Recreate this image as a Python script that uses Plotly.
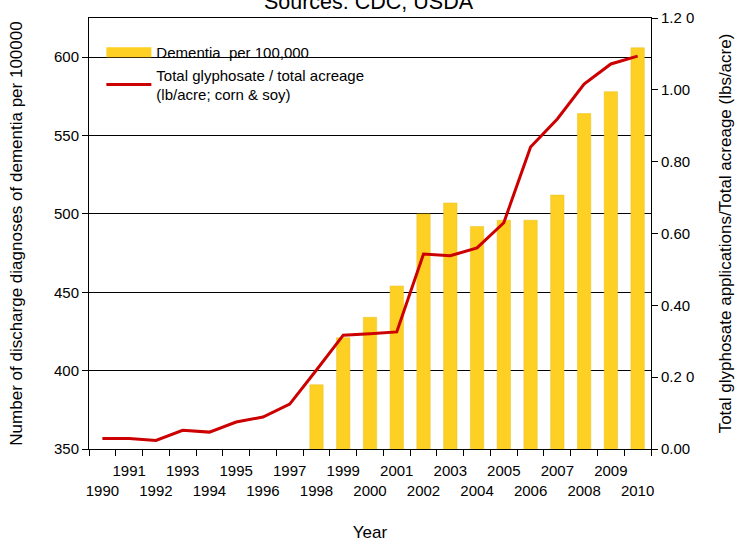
import plotly.graph_objects as go

years = [str(y) for y in range(1990, 2011)]
dementia = [None] * 8 + [391, 421, 434, 454, 500, 507, 492, 496, 496, 512, 564, 578, 606]
glyphosate = [0.029, 0.029, 0.024, 0.052, 0.047, 0.075, 0.089, 0.125, 0.22, 0.317,
              0.321, 0.326, 0.543, 0.538, 0.560, 0.630, 0.841, 0.919, 1.016, 1.072, 1.094]
x_ticktext = [y if int(y) % 2 == 1 else "<br>" + y for y in years]
right_tickvals = [0, 0.2, 0.4, 0.6, 0.8, 1.0, 1.2]
right_ticktext = ["0.00", "0.2 0", "0.40", "0.60", "0.80", "1.00", "1.2 0"]

FONT = "Liberation Sans, Arial, sans-serif"
BAR_COLOR = "#FDD023"

fig = go.Figure()
fig.add_trace(go.Bar(
    x=years, y=dementia, name="Dementia  per 100,000",
    marker=dict(color=BAR_COLOR, line=dict(color="#E8C020", width=0.5)),
    yaxis="y", showlegend=False,
))
# legend-only entry with a wide swatch like the original legend
fig.add_trace(go.Scatter(
    x=[None], y=[None], name="Dementia  per 100,000", mode="lines",
    line=dict(color=BAR_COLOR, width=10), yaxis="y", hoverinfo="skip",
))
fig.add_trace(go.Scatter(
    x=years, y=glyphosate, name="Total glyphosate / total acreage<br>(lb/acre; corn & soy)",
    mode="lines", line=dict(color="#CC0000", width=3), yaxis="y2",
))

fig.update_layout(
    width=737, height=542,
    margin=dict(l=89, r=86, t=18, b=93),
    paper_bgcolor="white", plot_bgcolor="white",
    font=dict(family=FONT, size=15, color="black"),
    title=dict(text="Sources: CDC; USDA", x=0.5, xanchor="center", y=0.998, yanchor="middle",
               font=dict(size=21.5)),
    bargap=0.5,
    showlegend=True,
    legend=dict(x=0.022, y=0.958, xanchor="left", yanchor="top", bgcolor="rgba(0,0,0,0)",
                font=dict(size=15), itemwidth=45, tracegroupgap=0),
    xaxis=dict(
        type="category", tickmode="array", tickvals=years, ticktext=x_ticktext,
        tickson="boundaries", ticks="outside", ticklen=6, tickcolor="black",
        showline=True, linecolor="black", linewidth=1, mirror=True,
        showgrid=False, tickangle=0, automargin=False, ticklabelstandoff=8,
        title=dict(text="Year", standoff=44, font=dict(size=17)),
        range=[-0.5, 20.5],
    ),
    yaxis=dict(
        range=[350, 625], tickvals=[350, 400, 450, 500, 550, 600],
        ticks="outside", ticklen=6, tickcolor="black",
        showline=True, linecolor="black", linewidth=1,
        showgrid=True, gridcolor="black", gridwidth=1, zeroline=False, automargin=False,
        title=dict(text="Number of discharge diagnoses of dementia per 100000", font=dict(size=17), standoff=27),
    ),
    yaxis2=dict(
        range=[0, 1.2], overlaying="y", side="right",
        tickmode="array", tickvals=right_tickvals, ticktext=right_ticktext,
        ticks="outside", ticklen=6, tickcolor="black",
        showline=True, linecolor="black", linewidth=1,
        showgrid=False, zeroline=False, automargin=False,
        title=dict(text="Total glyphosate applications/Total acreage (lbs/acre)", font=dict(size=17), standoff=25),
    ),
)

fig.write_html("out.html", config={"displayModeBar": False},
               post_script="document.body.style.margin='0';")
